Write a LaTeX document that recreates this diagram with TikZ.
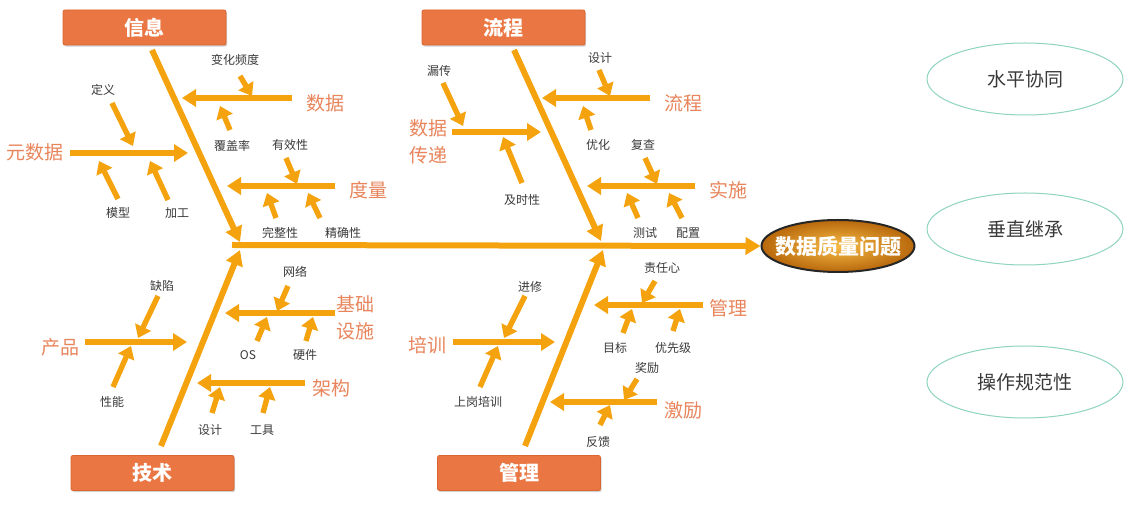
\documentclass[tikz,border=0pt]{standalone}
\usepackage{fontspec}
\setmainfont{Noto Sans CJK SC}
\newfontfamily\cjk{Noto Sans CJK SC}
\usetikzlibrary{arrows.meta,shadows,shapes.geometric}
\definecolor{fbarrow}{HTML}{F4A30E}
\definecolor{fbbox}{HTML}{EA7743}
\definecolor{fbboxd}{HTML}{D9652F}
\definecolor{fblabel}{HTML}{E8855C}
\definecolor{fbtext}{HTML}{3A3A3A}
\definecolor{fbteal}{HTML}{8FD3C1}
\definecolor{fbhl}{HTML}{F8BC45}
\definecolor{fbdark}{HTML}{B8680C}
\tikzset{
  bigarr/.style={draw=fbarrow, line width=3pt, -{Triangle[length=7.5pt,width=8.5pt]}},
  brarr/.style={draw=fbarrow, line width=2.7pt, -{Triangle[length=7pt,width=8.5pt]}},
  smarr/.style={draw=fbarrow, line width=2.7pt, -{Triangle[length=6pt,width=8.5pt]}},
  catbox/.style={rectangle, rounded corners=1pt, fill=fbbox, draw=fbboxd, line width=0.4pt,
    minimum width=81.5pt, minimum height=17.5pt, text=white,
    font=\cjk\fontsize{10pt}{12pt}\selectfont\bfseries,
    drop shadow={shadow xshift=0.6pt, shadow yshift=-0.8pt, opacity=0.35}},
  sublabel/.style={text=fblabel, font=\cjk\fontsize{9.5pt}{13.5pt}\selectfont, align=center, inner sep=0pt},
  small/.style={text=fbtext, font=\cjk\fontsize{6pt}{7pt}\selectfont, inner sep=0pt},
  side/.style={ellipse, draw=fbteal, line width=0.5pt, minimum width=98pt, minimum height=36pt,
    text=fbtext, font=\cjk\fontsize{9.5pt}{11pt}\selectfont},
}
\newcommand\fbar[4]{\coordinate (#1s) at (#3); \coordinate (#1e) at (#4); \draw[#2] (#1s) -- (#1e);}
\begin{document}
\begin{tikzpicture}[x=0.5pt,y=-0.5pt]
\useasboundingbox (0,0) rectangle (1140,512);
\fill[white] (0,0) rectangle (1140,512);

% category boxes
\node[catbox] (cinfo) at (144.5,27.5) {信息};
\node[catbox] (cproc) at (503.5,27.5) {流程};
\node[catbox] (ctech) at (152.5,473) {技术};
\node[catbox] (cmgmt) at (519,473) {管理};

% effect
\node[ellipse, draw=black!85, line width=1pt, minimum width=76.5pt, minimum height=26pt, inner sep=0pt,
  inner color=fbhl, outer color=fbdark] (eff) at (838,246) {};
\node[text=white, inner sep=0pt, font=\cjk\fontsize{10.5pt}{12pt}\selectfont\bfseries] (efft) at (eff.center) {数据质量问题};

% spine
\coordinate (sp0) at (232,245);
\draw[bigarr] (sp0) -- (eff.west);

% main ribs
\fbar{rinfo}{bigarr}{152,50}{240,242}
\fbar{rproc}{bigarr}{514,50}{601,241}
\fbar{rtech}{bigarr}{161,446}{240,250}
\fbar{rmgmt}{bigarr}{525,446}{603,250}

% ---- 信息 ----
\node[sublabel] (l1) at (35,152) {元数据};
\fbar{b1}{brarr}{70,153}{188,153}
\node[small] (t11) at (103,90) {定义};
\fbar{a11}{smarr}{112,103}{133,146}
\node[small] (t12) at (118,213) {模型};
\fbar{a12}{smarr}{118,199}{99,161}
\node[small] (t13) at (177,213) {加工};
\fbar{a13}{smarr}{168,200}{150,161}

\node[sublabel] (l2) at (325,103) {数据};
\fbar{b2}{brarr}{292,98}{182,98}
\node[small] (t21) at (235,60) {变化频度};
\fbar{a21}{smarr}{240,76}{252,96}
\node[small] (t22) at (232,146) {覆盖率};
\fbar{a22}{smarr}{230,130}{220,106}

\node[sublabel] (l3) at (368,190) {度量};
\fbar{b3}{brarr}{335,186}{227,186}
\node[small] (t31) at (290,145) {有效性};
\fbar{a31}{smarr}{286,158}{297,184}
\node[small] (t32) at (280,233) {完整性};
\fbar{a32}{smarr}{276,218}{267,193}
\node[small] (t33) at (343,233) {精确性};
\fbar{a33}{smarr}{320,218}{308,193}

% ---- 流程 ----
\node[sublabel] (l4) at (428,142) {数据\\传递};
\fbar{b4}{brarr}{452,132}{541,132}
\node[small] (t41) at (439,71) {漏传};
\fbar{a41}{smarr}{443,83}{463,126}
\node[small] (t42) at (522,200) {及时性};
\fbar{a42}{smarr}{522,183}{503,137}

\node[sublabel] (l5) at (683,103) {流程};
\fbar{b5}{brarr}{650,98}{542,98}
\node[small] (t51) at (600,58) {设计};
\fbar{a51}{smarr}{599,70}{610,96}
\node[small] (t52) at (598,145) {优化};
\fbar{a52}{smarr}{591,130}{583,106}

\node[sublabel] (l6) at (728,190) {实施};
\fbar{b6}{brarr}{695,186}{587,186}
\node[small] (t61) at (643,145) {复查};
\fbar{a61}{smarr}{645,158}{657,184}
\node[small] (t62) at (645,233) {测试};
\fbar{a62}{smarr}{638,218}{627,193}
\node[small] (t63) at (688,233) {配置};
\fbar{a63}{smarr}{682,218}{669,193}

% ---- 技术 ----
\node[sublabel] (l7) at (60,347) {产品};
\fbar{b7}{brarr}{85,342}{187,342}
\node[small] (t71) at (162,286) {缺陷};
\fbar{a71}{smarr}{158,296}{138,338}
\node[small] (t72) at (112,402) {性能};
\fbar{a72}{smarr}{113,387}{131,346}

\node[sublabel] (l8) at (355,318) {基础\\设施};
\fbar{b8}{brarr}{335,313}{225,313}
\node[small] (t81) at (295,272) {网络};
\fbar{a81}{smarr}{288,286}{277,311}
\node[small] (t82) at (248,355) {OS};
\fbar{a82}{smarr}{257,341}{267,317}
\node[small] (t83) at (305,355) {硬件};
\fbar{a83}{smarr}{306,341}{313,317}

\node[sublabel] (l9) at (331,388) {架构};
\fbar{b9}{brarr}{305,383}{197,383}
\node[small] (t91) at (210,430) {设计};
\fbar{a91}{smarr}{212,413}{220,387}
\node[small] (t92) at (262,430) {工具};
\fbar{a92}{smarr}{263,413}{270,387}

% ---- 管理 ----
\node[sublabel] (l10) at (427,345) {培训};
\fbar{b10}{brarr}{453,342}{555,342}
\node[small] (t101) at (530,287) {进修};
\fbar{a101}{smarr}{525,296}{504,338}
\node[small] (t102) at (478,402) {上岗培训};
\fbar{a102}{smarr}{480,387}{498,346}

\node[sublabel] (l11) at (728,308) {管理};
\fbar{b11}{brarr}{703,305}{594,305}
\node[small] (t111) at (662,268) {责任心};
\fbar{a111}{smarr}{655,281}{642,303}
\node[small] (t112) at (615,348) {目标};
\fbar{a112}{smarr}{623,333}{632,309}
\node[small] (t113) at (673,348) {优先级};
\fbar{a113}{smarr}{673,331}{680,309}

\node[sublabel] (l12) at (683,410) {激励};
\fbar{b12}{brarr}{657,402}{550,402}
\node[small] (t121) at (647,368) {奖励};
\fbar{a121}{smarr}{637,379}{624,400}
\node[small] (t122) at (598,442) {反馈};
\fbar{a122}{smarr}{600,425}{610,405}

% side ellipses
\node[side] (s1) at (1025,79) {水平协同};
\node[side] (s2) at (1025,229) {垂直继承};
\node[side] (s3) at (1025,382) {操作规范性};
\end{tikzpicture}
\end{document}
